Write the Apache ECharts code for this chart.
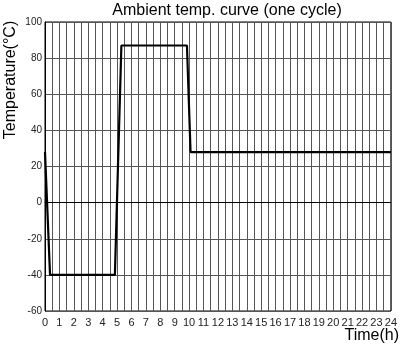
<!DOCTYPE html>
<html><head><meta charset="utf-8">
<script src="https://cdn.jsdelivr.net/npm/echarts@6/dist/echarts.min.js"></script>
<style>html,body{margin:0;padding:0;background:#fff}#c{width:400px;height:348px}</style>
</head><body><div id="c"></div>
<script>
const timeH = [0, 0.35, 4.85, 5.3, 9.85, 10.1, 24];
const tempC = [28, -40, -40, 87, 87, 28, 28];
const titleText = 'Ambient temp. curve (one cycle)';
const yName = 'Temperature(°C)';
const xName = 'Time(h)';

const chart = echarts.init(document.getElementById('c'), null, {renderer: 'canvas'});
const font = 'Liberation Sans, Arial, sans-serif';
chart.setOption({
  animation: false,
  backgroundColor: '#fff',
  title: {text: titleText, left: 222, textAlign: 'center', top: -2,
    textStyle: {fontFamily: font, fontSize: 16, fontWeight: 'normal', color: '#000'}},
  grid: {left: 45, right: 6, top: 22, bottom: 37, show: true, borderColor: '#000', borderWidth: 1},
  xAxis: {type: 'value', min: 0, max: 24, interval: 1,
    axisLine: {show: true, lineStyle: {color: '#000'}},
    axisTick: {show: false},
    axisLabel: {fontFamily: font, fontSize: 11, color: '#222', margin: 6},
    splitLine: {show: true, lineStyle: {color: '#555', width: 1}},
    minorTick: {show: false, splitNumber: 2},
    minorSplitLine: {show: true, lineStyle: {color: '#555', width: 1}}},
  yAxis: {type: 'value', min: -60, max: 100, interval: 20,
    axisLine: {show: true, lineStyle: {color: '#000'}},
    axisTick: {show: false},
    axisLabel: {fontFamily: font, fontSize: 10, color: '#222', margin: 3},
    splitLine: {show: true, lineStyle: {color: '#555', width: 1}}},
  graphic: [
    {type: 'text', x: 11, y: 80, rotation: Math.PI / 2,
      style: {text: yName, font: '16px ' + font, fill: '#000', align: 'center', verticalAlign: 'middle'}},
    {type: 'text', x: 399, y: 336,
      style: {text: xName, font: '16px ' + font, fill: '#000', align: 'right', verticalAlign: 'middle'}}
  ],
  series: [{type: 'line', data: timeH.map((t, i) => [t, tempC[i]]), showSymbol: false,
    lineStyle: {color: '#000', width: 2.2}, silent: true}]
});
</script></body></html>
